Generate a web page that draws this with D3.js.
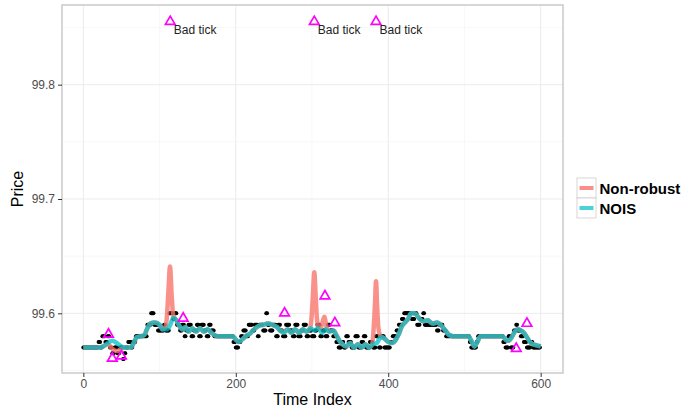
<!DOCTYPE html>
<html>
<head>
<meta charset="utf-8">
<script src="https://cdn.jsdelivr.net/npm/d3@7"></script>
<style>
  html, body { margin: 0; padding: 0; background: #fff; }
  svg { display: block; font-family: "Liberation Sans", Arial, Helvetica, sans-serif; }
</style>
</head>
<body>
<svg id="chart" width="700" height="412"></svg>
<script>
// Observed trade prices, stored as [price, number of consecutive ticks at that price]
const priceRuns = [
  [99.57,20],[99.575,3],[99.57,2],[99.58,4],[99.575,3],[99.58,3],[99.57,3],[99.565,3],
  [99.57,4],[99.565,3],[99.57,4],[99.56,2],[99.565,2],[99.57,3],[99.575,4],[99.57,2],
  [99.575,4],[99.58,15],[99.59,5],[99.6,4],[99.59,5],[99.585,8],[99.59,2],[99.585,5],
  [99.6,5],[99.595,2],[99.6,3],[99.59,4],[99.585,3],[99.59,3],[99.58,2],[99.585,3],
  [99.59,4],[99.58,3],[99.585,4],[99.59,3],[99.58,3],[99.59,4],[99.585,3],[99.58,3],
  [99.59,3],[99.585,4],[99.58,25],[99.575,3],[99.57,4],[99.575,3],[99.58,3],[99.585,4],
  [99.58,3],[99.59,5],[99.585,3],[99.59,4],[99.58,2],[99.59,5],[99.585,4],[99.6,2],
  [99.59,3],[99.585,4],[99.59,4],[99.58,3],[99.59,3],[99.585,3],[99.58,4],[99.59,5],
  [99.585,4],[99.58,3],[99.59,4],[99.58,4],[99.585,3],[99.59,4],[99.58,3],[99.585,4],
  [99.58,4],[99.585,3],[99.59,4],[99.58,3],[99.585,4],[99.58,3],[99.59,3],[99.585,4],
  [99.58,4],[99.575,3],[99.57,4],[99.575,3],[99.57,3],[99.58,3],[99.575,4],[99.57,5],
  [99.58,4],[99.57,4],[99.575,3],[99.58,3],[99.57,5],[99.575,4],[99.57,4],[99.58,4],
  [99.57,3],[99.58,4],[99.57,3],[99.57,5],[99.575,3],[99.58,5],[99.585,3],[99.59,4],
  [99.595,3],[99.6,10],[99.595,4],[99.6,3],[99.59,4],[99.595,4],[99.6,2],[99.59,16],
  [99.585,3],[99.59,5],[99.585,4],[99.58,31],[99.575,2],[99.57,7],[99.575,2],[99.58,33],
  [99.575,3],[99.57,4],[99.58,3],[99.57,4],[99.585,3],[99.59,2],[99.585,4],[99.58,4],
  [99.575,4],[99.57,5],[99.575,3],[99.57,10]
];

// Robust (NOIS) filtered price
const noisTime = [0,20,26,32,38,44,50,56,62,66,70,76,80,84,88,94,100,104,110,114,118,122,126,130,134,138,
  143,148,153,158,163,168,172,176,196,200,204,208,213,218,224,230,236,242,248,254,258,263,268,273,278,283,
  288,293,298,303,308,313,318,323,328,332,336,340,345,350,355,360,365,370,375,380,385,390,395,400,405,410,
  414,418,422,426,430,435,440,446,452,458,464,470,475,480,485,505,509,513,517,521,550,554,558,562,566,570,
  574,578,582,586,590,595,600];
const noisValue = [99.57,99.57,99.571,99.574,99.576,99.574,99.571,99.57,99.57,99.574,99.579,99.58,99.581,
  99.587,99.591,99.592,99.59,99.586,99.586,99.59,99.596,99.594,99.589,99.586,99.588,99.584,99.587,99.584,
  99.587,99.584,99.586,99.583,99.581,99.58,99.58,99.577,99.575,99.577,99.58,99.582,99.586,99.589,99.59,
  99.591,99.59,99.588,99.585,99.583,99.586,99.583,99.586,99.583,99.586,99.584,99.587,99.585,99.587,99.583,
  99.586,99.584,99.585,99.581,99.576,99.573,99.571,99.574,99.57,99.573,99.57,99.573,99.57,99.573,99.574,
  99.579,99.578,99.575,99.574,99.577,99.582,99.589,99.592,99.595,99.6,99.6,99.596,99.593,99.594,99.591,
  99.592,99.589,99.585,99.581,99.58,99.58,99.576,99.571,99.575,99.58,99.58,99.577,99.576,99.579,99.584,
  99.586,99.585,99.583,99.579,99.575,99.573,99.572,99.571];

// Non-robust filtered price (pulled toward the bad ticks)
const nonRobustTime = [0,20,26,32,38,44,50,56,62,66,70,76,80,84,88,94,100,104,107,109.5,111.5,113.7,116,118,
  122,126,130,134,138,143,148,153,158,163,168,172,176,196,200,204,208,213,218,224,230,236,242,248,254,258,263,
  268,273,278,283,288,293,297,299.5,301.2,303,304.8,306.5,309,312,314.5,316.3,318,320,323,328,332,336,340,345,
  350,355,360,365,370,375,379,381,382.6,384,385.4,387,390,395,400,405,410,414,418,422,426,430,435,440,446,452,
  458,464,470,475,480,485,505,509,513,517,521,550,554,558,562,566,570,574,578,582,586,590,595,600];
const nonRobustValue = [99.57,99.57,99.571,99.573,99.569,99.567,99.569,99.57,99.57,99.574,99.579,99.58,99.581,
  99.587,99.591,99.592,99.59,99.586,99.587,99.596,99.618,99.641,99.614,99.598,99.594,99.589,99.586,99.588,
  99.584,99.587,99.584,99.587,99.584,99.586,99.583,99.581,99.58,99.58,99.577,99.575,99.577,99.58,99.582,
  99.586,99.589,99.59,99.591,99.59,99.588,99.585,99.584,99.586,99.583,99.586,99.583,99.586,99.584,99.586,
  99.597,99.616,99.636,99.615,99.595,99.587,99.588,99.594,99.597,99.592,99.586,99.584,99.585,99.581,99.576,
  99.573,99.571,99.574,99.57,99.573,99.57,99.573,99.57,99.573,99.588,99.608,99.628,99.607,99.588,99.58,
  99.578,99.575,99.574,99.577,99.582,99.589,99.592,99.595,99.6,99.6,99.596,99.593,99.594,99.591,99.592,
  99.589,99.585,99.581,99.58,99.58,99.576,99.571,99.575,99.58,99.58,99.577,99.576,99.579,99.584,99.586,
  99.585,99.583,99.579,99.575,99.573,99.572,99.571];

// Ticks flagged as outliers
const outlierTime  = [33, 38, 50, 114, 131, 264, 303, 317, 330, 384, 568, 582];
const outlierPrice = [99.5825, 99.5615, 99.5635, 99.856, 99.5965, 99.601, 99.856, 99.616, 99.5925, 99.856, 99.570, 99.592];
const outlierLabel = ["", "", "", "Bad tick", "", "", "Bad tick", "", "", "Bad tick", "", ""];

const xTicks = [0, 200, 400, 600];
const xMinor = [100, 300, 500];
const yTicks = [99.6, 99.7, 99.8];
const yMinor = [99.55, 99.65, 99.75, 99.85];
const seriesNames = ["Non-robust", "NOIS"];
const seriesColors = ["#F8766D", "#00BFC4"];

// Expand the runs into individual ticks
const prices = [];
priceRuns.forEach(([p, n]) => { for (let i = 0; i < n; i++) prices.push({ t: prices.length, p }); });

const panel = { left: 62, right: 563, top: 5, bottom: 373 };
const x = d3.scaleLinear().domain([-28, 629.3]).range([panel.left, panel.right]);
const y = d3.scaleLinear().domain([99.5478, 99.8697]).range([panel.bottom, panel.top]);

const svg = d3.select("#chart");
svg.append("rect").attr("width", 700).attr("height", 412).attr("fill", "#fff");

const grid = svg.append("g");
grid.selectAll(".xmin").data(xMinor).join("line")
  .attr("x1", d => x(d)).attr("x2", d => x(d)).attr("y1", panel.top).attr("y2", panel.bottom)
  .attr("stroke", "#f4f4f4").attr("stroke-width", 0.6);
grid.selectAll(".ymin").data(yMinor).join("line")
  .attr("y1", d => y(d)).attr("y2", d => y(d)).attr("x1", panel.left).attr("x2", panel.right)
  .attr("stroke", "#f4f4f4").attr("stroke-width", 0.6);
grid.selectAll(".xmaj").data(xTicks).join("line")
  .attr("x1", d => x(d)).attr("x2", d => x(d)).attr("y1", panel.top).attr("y2", panel.bottom)
  .attr("stroke", "#ebebeb").attr("stroke-width", 1);
grid.selectAll(".ymaj").data(yTicks).join("line")
  .attr("y1", d => y(d)).attr("y2", d => y(d)).attr("x1", panel.left).attr("x2", panel.right)
  .attr("stroke", "#ebebeb").attr("stroke-width", 1);

// Trade prices
svg.append("g").selectAll("circle").data(prices).join("circle")
  .attr("cx", d => x(d.t)).attr("cy", d => y(d.p)).attr("r", 2).attr("fill", "#000");

// Filtered series
const line = d3.line().x(d => x(d[0])).y(d => y(d[1])).curve(d3.curveMonotoneX);
const nonRobust = nonRobustTime.map((t, i) => [t, nonRobustValue[i]]);
const nois = noisTime.map((t, i) => [t, noisValue[i]]);
svg.append("path").datum(nonRobust).attr("d", line).attr("fill", "none")
  .attr("stroke", seriesColors[0]).attr("stroke-opacity", 0.8).attr("stroke-width", 4.5)
  .attr("stroke-linejoin", "round");
svg.append("path").datum(nois).attr("d", line).attr("fill", "none")
  .attr("stroke", seriesColors[1]).attr("stroke-opacity", 0.75).attr("stroke-width", 4.5)
  .attr("stroke-linejoin", "round");

// Outliers
const outliers = outlierTime.map((t, i) => ({ t, p: outlierPrice[i], label: outlierLabel[i] }));
const tri = d3.symbol().type(d3.symbolTriangle).size(40);
svg.append("g").selectAll("path").data(outliers).join("path")
  .attr("transform", d => `translate(${x(d.t)},${y(d.p) + 1})`)
  .attr("d", tri).attr("fill", "none").attr("stroke", "#FF00FF").attr("stroke-width", 1.7);
svg.append("g").selectAll("text").data(outliers.filter(d => d.label)).join("text")
  .attr("x", d => x(d.t) + 3.5).attr("y", d => y(d.p) + 13.5)
  .attr("font-size", 12).attr("fill", "#222").text(d => d.label);

// Panel border
svg.append("rect").attr("x", panel.left).attr("y", panel.top)
  .attr("width", panel.right - panel.left).attr("height", panel.bottom - panel.top)
  .attr("fill", "none").attr("stroke", "#c6c6c6").attr("stroke-width", 1.4);

// Axes
const xAxis = svg.append("g").attr("transform", `translate(0,${panel.bottom})`)
  .call(d3.axisBottom(x).tickValues(xTicks).tickFormat(d3.format("d")).tickSize(4).tickPadding(2));
const yAxis = svg.append("g").attr("transform", `translate(${panel.left},0)`)
  .call(d3.axisLeft(y).tickValues(yTicks).tickFormat(d3.format(".1f")).tickSize(4).tickPadding(3));
[xAxis, yAxis].forEach(a => {
  a.select(".domain").remove();
  a.selectAll(".tick line").attr("stroke", "#333").attr("stroke-width", 1);
  a.selectAll(".tick text").attr("fill", "#4d4d4d").attr("font-size", 12)
    .attr("font-family", "Liberation Sans, Arial, sans-serif");
});

// Axis titles
svg.append("text").attr("x", (panel.left + panel.right) / 2).attr("y", 405)
  .attr("text-anchor", "middle").attr("font-size", 16).attr("fill", "#000").text("Time Index");
svg.append("text").attr("transform", `translate(23,${(panel.top + panel.bottom) / 2}) rotate(-90)`)
  .attr("text-anchor", "middle").attr("font-size", 16).attr("fill", "#000").text("Price");

// Legend
const legend = svg.append("g").attr("transform", "translate(577,178)");
seriesNames.forEach((name, i) => {
  const g = legend.append("g").attr("transform", `translate(0,${i * 20})`);
  g.append("rect").attr("width", 19).attr("height", 20).attr("fill", "#fff")
    .attr("stroke", "#cccccc").attr("stroke-width", 0.8);
  g.append("line").attr("x1", 2.5).attr("x2", 16.5).attr("y1", 10).attr("y2", 10)
    .attr("stroke", seriesColors[i]).attr("stroke-opacity", i === 0 ? 0.8 : 0.7).attr("stroke-width", 4);
  g.append("text").attr("x", 22.5).attr("y", 15.5).attr("font-size", 15).attr("font-weight", "bold")
    .attr("fill", "#000").text(name);
});
</script>
</body>
</html>
